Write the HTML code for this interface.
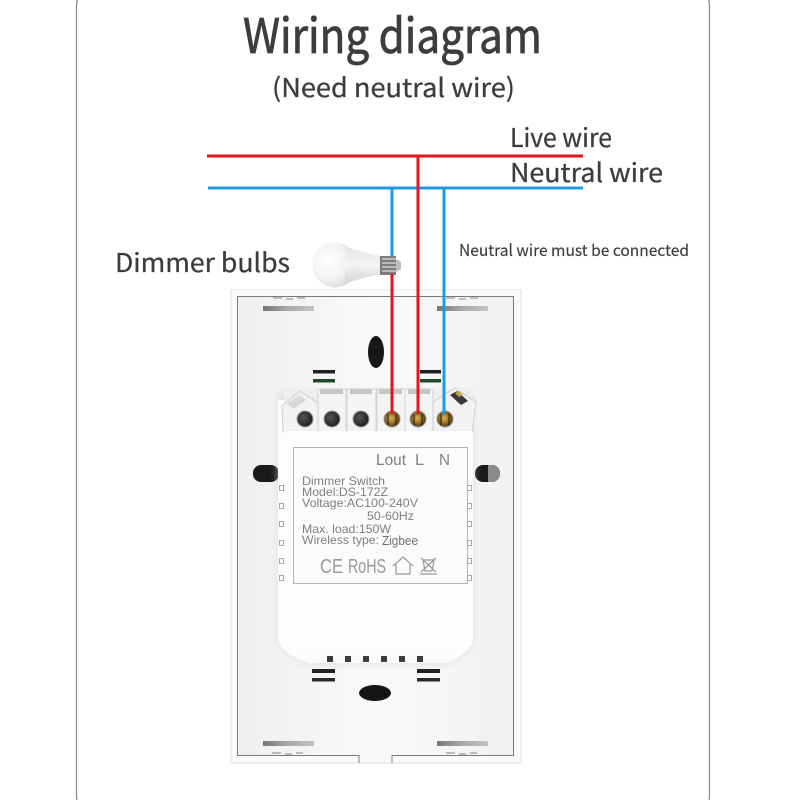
<!DOCTYPE html>
<html>
<head>
<meta charset="utf-8">
<style>
  html,body{margin:0;padding:0;background:#fff;}
  svg{display:block;}
  .hd{font-family:"Noto Sans CJK SC","Liberation Sans",sans-serif;fill:#3d3d3d;stroke:#3d3d3d;stroke-width:0.3;}
  .lb{font-family:"Liberation Sans",sans-serif;fill:#808080;}
</style>
</head>
<body>
<svg width="800" height="800" viewBox="0 0 800 800" xmlns="http://www.w3.org/2000/svg">
  <defs>
    <linearGradient id="plateG" x1="0" y1="0" x2="1" y2="0">
      <stop offset="0" stop-color="#efefef"/>
      <stop offset="0.5" stop-color="#fafafa"/>
      <stop offset="1" stop-color="#f1f1f1"/>
    </linearGradient>
    <linearGradient id="barG" x1="0" y1="0" x2="1" y2="0">
      <stop offset="0" stop-color="#777"/>
      <stop offset="0.5" stop-color="#a9a9a9"/>
      <stop offset="1" stop-color="#c4c4c4"/>
    </linearGradient>
    <radialGradient id="globeG" cx="0.35" cy="0.4" r="0.75">
      <stop offset="0" stop-color="#ffffff"/>
      <stop offset="0.55" stop-color="#f2f2f2"/>
      <stop offset="1" stop-color="#d2d2d2"/>
    </radialGradient>
    <linearGradient id="neckG" x1="0" y1="0" x2="0" y2="1">
      <stop offset="0" stop-color="#e6e6e6"/>
      <stop offset="0.5" stop-color="#f4f4f4"/>
      <stop offset="1" stop-color="#d4d4d4"/>
    </linearGradient>
    <radialGradient id="goldG" cx="0.45" cy="0.45" r="0.6">
      <stop offset="0" stop-color="#d9b45a"/>
      <stop offset="0.6" stop-color="#8a6420"/>
      <stop offset="1" stop-color="#3a2608"/>
    </radialGradient>
    <radialGradient id="blackG" cx="0.4" cy="0.4" r="0.7">
      <stop offset="0" stop-color="#555"/>
      <stop offset="1" stop-color="#151515"/>
    </radialGradient>
    <filter id="sh" x="-20%" y="-20%" width="140%" height="140%">
      <feGaussianBlur stdDeviation="4"/>
    </filter>
  </defs>

  <!-- outer frame -->
  <rect x="76.5" y="-14" width="633" height="830" rx="20" fill="none" stroke="#8c8c8c" stroke-width="1.3"/>

  <!-- titles -->
  <text class="hd" x="243" y="53" font-size="48" textLength="299" lengthAdjust="spacingAndGlyphs" style="stroke-width:0.8">Wiring diagram</text>
  <text class="hd" x="272" y="97" font-size="26" textLength="243" lengthAdjust="spacingAndGlyphs">(Need neutral wire)</text>

  <text class="hd" x="510" y="147" font-size="26" textLength="102" lengthAdjust="spacingAndGlyphs">Live wire</text>
  <text class="hd" x="510" y="182" font-size="26" textLength="153" lengthAdjust="spacingAndGlyphs">Neutral wire</text>
  <text class="hd" x="115" y="272" font-size="26" textLength="175" lengthAdjust="spacingAndGlyphs">Dimmer bulbs</text>
  <text class="hd" x="459" y="256" font-size="16" textLength="230" lengthAdjust="spacingAndGlyphs" style="stroke-width:0.15">Neutral wire must be connected</text>

  <!-- switch plate -->
  <rect x="231" y="290" width="290" height="473" fill="#fafafa" stroke="#e2e2e2" stroke-width="1"/>
  <rect x="238" y="297" width="275" height="458" fill="url(#plateG)"/>
  <path d="M359,763 L359,755.5 L237.5,755.5 L237.5,296.5 L513.5,296.5 L513.5,755.5 L392,755.5 L392,763" fill="none" stroke="#7a7a7a" stroke-width="1"/>

  <!-- small marks near top/bottom edges -->
  <g stroke="#9a9a9a" stroke-width="1.2" fill="none">
    <path d="M273,298 H282 M286,299 H293 M297,298 H305"/>
    <path d="M446,298 H455 M459,299 H466 M470,298 H478"/>
    <path d="M272,753 H281 M285,754 H292 M296,753 H303"/>
    <path d="M446,753 H455 M459,754 H466 M470,753 H477"/>
  </g>

  <!-- gray bars -->
  <rect x="263" y="306" width="51" height="5" fill="url(#barG)"/>
  <rect x="437" y="306" width="51" height="5" fill="url(#barG)"/>
  <rect x="263" y="741" width="51" height="5" fill="url(#barG)"/>
  <rect x="437" y="741" width="51" height="5" fill="url(#barG)"/>

  <!-- oval holes -->
  <ellipse cx="376" cy="352" rx="8" ry="16" fill="#161616"/>
  <ellipse cx="375" cy="693" rx="16" ry="8" fill="#161616"/>
  <rect x="253" y="465" width="26" height="17" rx="8" fill="#1a1a1a"/>
  <rect x="475" y="465" width="25" height="17" rx="8" fill="#1a1a1a"/>
  <path d="M488,465 H492 A8,8 0 0 1 500,473 V474 A8,8 0 0 1 492,482 H488 Z" fill="#8a8a8a"/>

  <!-- module shadow -->
  <path d="M278,392 L278,640 Q281,653 308,664 L447,664 Q470,653 473,640 L473,392 Z" fill="#d8d8d8" filter="url(#sh)" opacity="0.7"/>

  <!-- module body -->
  <path d="M278,400 L278,640 Q281,653 308,663 L447,663 Q470,653 473,640 L473,400 Z" fill="#fcfcfc"/>

  <!-- terminal block -->
  <rect x="284" y="390" width="188" height="42" fill="#eeeeee"/>
  <g fill="#f4f4f4" stroke="#d4d4d4" stroke-width="1">
    <rect x="318" y="389" width="28" height="43"/>
    <rect x="347" y="389" width="29" height="43"/>
    <rect x="377" y="389" width="28" height="43"/>
    <rect x="405" y="389" width="28" height="43"/>
  </g>
  <g fill="#c6c6c6">
    <rect x="320" y="389" width="23" height="5"/>
    <rect x="350" y="389" width="22" height="5"/>
    <rect x="379" y="389" width="23" height="5"/>
    <rect x="408" y="389" width="22" height="5"/>
  </g>
  <polygon points="282,406 300,391 318,403 318,432 283,432" fill="#f2f2f2" stroke="#cfcfcf"/>
  <polygon points="287,404 299,395 306,400 294,409" fill="#d8d8d8"/>
  <polygon points="433,402 455,388 476,402 472,432 433,432" fill="#f2f2f2" stroke="#cfcfcf"/>
  <polygon points="450,395 457,391 468,401 461,405" fill="#3a3a3a"/>
  <polygon points="455,393 459,391 463,395 459,397" fill="#c9a24a"/>

  <!-- screws -->
  <g stroke="#9a9a9a" stroke-width="1">
    <circle cx="305" cy="419" r="8" fill="url(#blackG)"/>
    <circle cx="332" cy="419" r="8" fill="url(#blackG)"/>
    <circle cx="361" cy="419" r="8" fill="url(#blackG)"/>
    <circle cx="392" cy="419" r="8" fill="url(#goldG)"/>
    <circle cx="418" cy="419" r="8" fill="url(#goldG)"/>
    <circle cx="445" cy="419" r="8" fill="url(#goldG)"/>
  </g>
  <g stroke="#2a1a05" stroke-width="1">
    <path d="M388,414 V425 M396,414 V425"/>
    <path d="M414,414 V425 M422,414 V425"/>
    <path d="M441,414 V425 M449,414 V425"/>
  </g>

  <!-- module face -->
  <rect x="284" y="431" width="188" height="215" fill="#fdfdfd"/>
  <rect x="293.5" y="447.5" width="174" height="136" fill="#fbfbfb" stroke="#b4b4b4" stroke-width="1"/>

  <!-- side dashes -->
  <g fill="none" stroke="#a8a8a8" stroke-width="1">
    <rect x="279.5" y="485.5" width="4" height="5"/>
    <rect x="279.5" y="503.5" width="4" height="5"/>
    <rect x="279.5" y="521.5" width="4" height="5"/>
    <rect x="279.5" y="540.5" width="4" height="5"/>
    <rect x="279.5" y="558.5" width="4" height="5"/>
    <rect x="279.5" y="575.5" width="4" height="5"/>
    <rect x="467.5" y="485.5" width="4" height="5"/>
    <rect x="467.5" y="503.5" width="4" height="5"/>
    <rect x="467.5" y="521.5" width="4" height="5"/>
    <rect x="467.5" y="540.5" width="4" height="5"/>
    <rect x="467.5" y="558.5" width="4" height="5"/>
    <rect x="467.5" y="575.5" width="4" height="5"/>
  </g>

  <!-- green/black dash pairs -->
  <rect x="313" y="370" width="22" height="3.5" fill="#1f1f1f"/>
  <rect x="313" y="379" width="22" height="3.5" fill="#1e4a2a"/>
  <rect x="420" y="370" width="21" height="3.5" fill="#1f1f1f"/>
  <rect x="420" y="379" width="21" height="3.5" fill="#1e4a2a"/>
  <rect x="312" y="669" width="23" height="4" fill="#222"/>
  <rect x="312" y="678" width="23" height="3.5" fill="#2a2a2a"/>
  <rect x="417" y="669" width="23" height="4" fill="#222"/>
  <rect x="417" y="678" width="23" height="3.5" fill="#2a2a2a"/>

  <!-- bottom module squares -->
  <g fill="#3c3c3c">
    <rect x="327" y="656" width="6" height="6"/>
    <rect x="345" y="656" width="6" height="6"/>
    <rect x="363" y="656" width="6" height="6"/>
    <rect x="381" y="656" width="6" height="6"/>
    <rect x="399" y="656" width="6" height="6"/>
    <rect x="417" y="656" width="6" height="6"/>
  </g>

  <!-- label text -->
  <text class="lb" x="376" y="465" font-size="16" textLength="30" lengthAdjust="spacingAndGlyphs">Lout</text>
  <text class="lb" x="415" y="465" font-size="16" textLength="9" lengthAdjust="spacingAndGlyphs">L</text>
  <text class="lb" x="439" y="465" font-size="16" textLength="11" lengthAdjust="spacingAndGlyphs">N</text>

  <text class="lb" x="302" y="485" font-size="12" textLength="83" lengthAdjust="spacingAndGlyphs">Dimmer Switch</text>
  <text class="lb" x="302" y="496" font-size="12" textLength="86" lengthAdjust="spacingAndGlyphs">Model:DS-172Z</text>
  <text class="lb" x="302" y="507" font-size="12" textLength="116" lengthAdjust="spacingAndGlyphs">Voltage:AC100-240V</text>
  <text class="lb" x="367" y="520" font-size="12" textLength="47" lengthAdjust="spacingAndGlyphs">50-60Hz</text>
  <text class="lb" x="302" y="533" font-size="12" textLength="89" lengthAdjust="spacingAndGlyphs">Max. load:150W</text>
  <text class="lb" x="302" y="544" font-size="12" textLength="77" lengthAdjust="spacingAndGlyphs">Wireless type:</text>
  <text class="lb" x="382" y="545" font-size="12.5" textLength="36" lengthAdjust="spacingAndGlyphs" style="fill:#6e6e6e">Zigbee</text>

  <text class="lb" x="320" y="573" font-size="20" textLength="23" lengthAdjust="spacingAndGlyphs" style="fill:#9a9a9a">CE</text>
  <text class="lb" x="348" y="573" font-size="20" textLength="38" lengthAdjust="spacingAndGlyphs" style="fill:#9a9a9a">RoHS</text>
  <g fill="none" stroke="#9a9a9a" stroke-width="1.2">
    <path d="M393,566 L403,557 L413,566 M396,564 V574 H410 V564"/>
    <path d="M421,558 L436,572 M436,558 L421,572 M423,560 H434 L432,571 H425 Z M420,574 H437"/>
  </g>

  <!-- bulb -->
  <path d="M348,248 C360,251 370,254 381,256 L381,274 C370,276 360,279 348,282 Z" fill="url(#neckG)"/>
  <circle cx="335" cy="265" r="22.5" fill="url(#globeG)"/>
  <path d="M345,247 C358,250 370,254 381,256 L381,274 C370,276 358,280 345,283" fill="url(#neckG)" opacity="0.9"/>
  <rect x="380" y="256" width="16" height="19" fill="#7d7d7d"/>
  <g stroke="#e0e0e0" stroke-width="1.3">
    <path d="M382,259 H396 M382,263 H396 M382,267 H396 M382,271 H396"/>
  </g>
  <path d="M396,259 L401,262 L401,269 L396,272 Z" fill="#bdbdbd"/>

  <!-- wires -->
  <g stroke-width="3" fill="none">
    <line x1="207" y1="156" x2="583" y2="156" stroke="#e5141f"/>
    <line x1="208" y1="188" x2="583" y2="188" stroke="#1e9ae4"/>
    <line x1="392" y1="188" x2="392" y2="256" stroke="#1e9ae4"/>
    <line x1="444" y1="188" x2="444" y2="414" stroke="#1e9ae4"/>
    <line x1="418" y1="156" x2="418" y2="414" stroke="#e5141f"/>
    <line x1="392" y1="274" x2="392" y2="414" stroke="#e5141f"/>
  </g>
</svg>
</body>
</html>
